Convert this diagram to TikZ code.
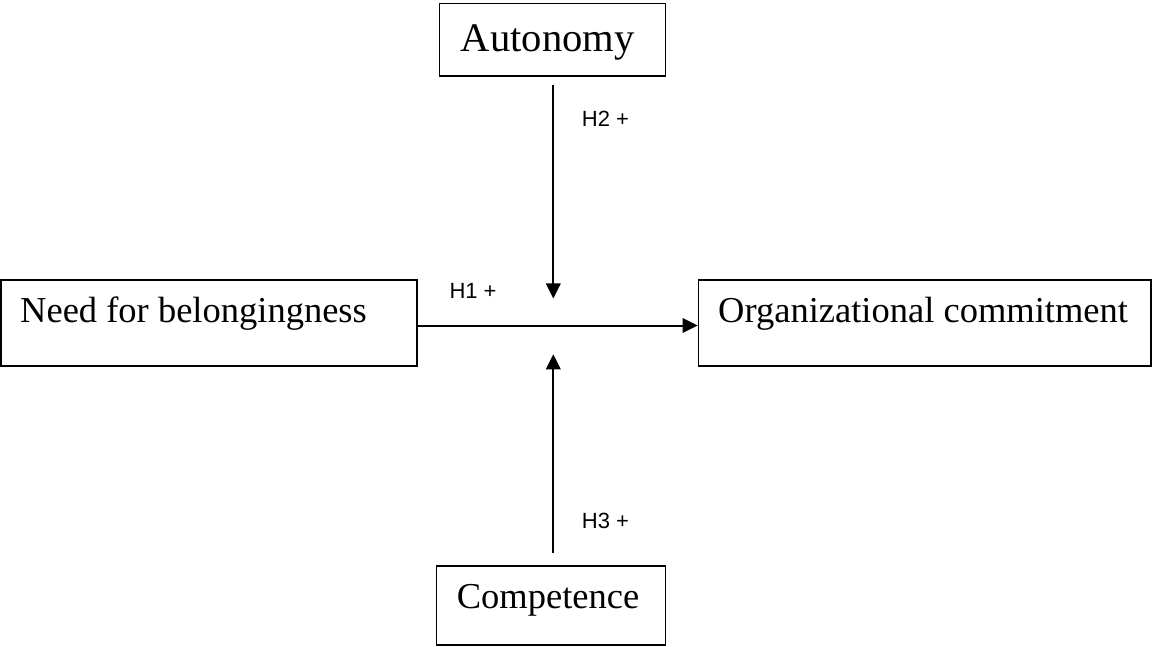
\documentclass[tikz,border=0pt]{standalone}
\usepackage{fontspec}
\setmainfont{Liberation Serif}
\newfontfamily\lsans{Liberation Sans}
\usetikzlibrary{arrows.meta}
\begin{document}
\begin{tikzpicture}[x=1pt,y=-1pt,
  box/.style={draw, line width=1.8pt, rectangle, inner sep=0pt},
  txt/.style={anchor=base west, inner sep=0pt, font=\fontsize{36.5}{40}\selectfont},
  bigtxt/.style={anchor=base west, inner sep=0pt, font=\fontsize{40.6}{44}\selectfont},
  hyp/.style={anchor=base west, inner sep=0pt, font=\lsans\fontsize{22}{24}\selectfont},
  arr/.style={line width=2pt, -{Triangle[length=15pt,width=14.5pt]}}]
\useasboundingbox (0,0) rectangle (1152,647);
% boxes
\node[box, minimum width=226pt, minimum height=72.5pt] (auto) at (552.5,39.75) {};
\node[box, minimum width=416pt, minimum height=86pt] (need) at (209,323) {};
\node[box, minimum width=452.5pt, minimum height=86pt] (org) at (924.75,323) {};
\node[box, minimum width=229pt, minimum height=79pt] (comp) at (551,605.5) {};
% texts
\node[bigtxt] (autot) at (460.7,52) {Autonomy};
\node[txt] (needt) at (20,322.7) {Need for belongingness};
\node[txt] (orgt) at (718,322.7) {Organizational commitment};
\node[txt] (compt) at (456.7,608.3) {Competence};
% arrows
\coordinate (topS) at (553.3,85);
\coordinate (topE) at (553.3,298.5);
\coordinate (botS) at (553.3,553.3);
\coordinate (botE) at (553.3,354.3);
\draw[arr] (need.east |- 0,325.5) -- (org.west |- 0,325.5);
\draw[arr] (topS) -- (topE);
\draw[arr] (botS) -- (botE);
% labels
\node[hyp] (h1) at (449.3,298.3) {H1 +};
\node[hyp] (h2) at (581.7,126.7) {H2 +};
\node[hyp] (h3) at (581.7,528.3) {H3 +};
\end{tikzpicture}
\end{document}
